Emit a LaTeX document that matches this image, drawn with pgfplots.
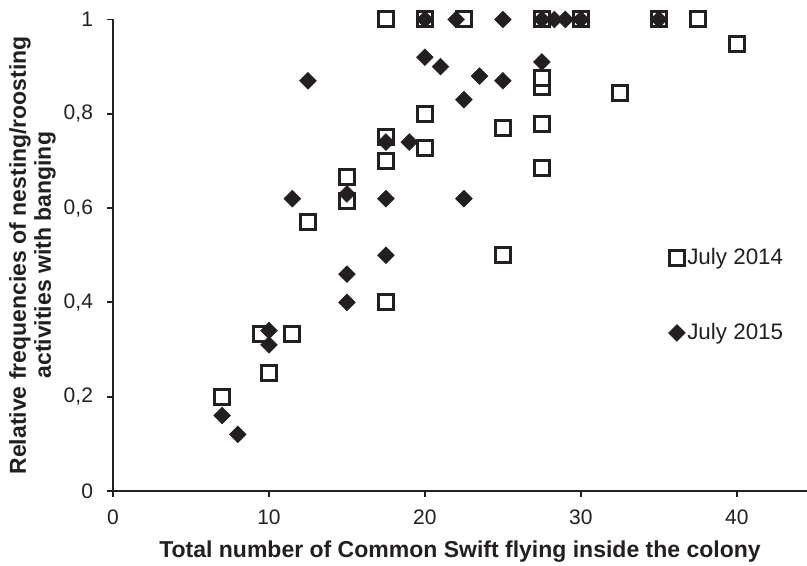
\documentclass[border=0pt]{standalone}
\usepackage{pgfplots}
\pgfplotsset{compat=1.18}
\usepackage{fontspec}
\setmainfont{Liberation Sans}
\definecolor{ink}{HTML}{231F20}
\pgfplotsset{
    swiftlegend/.style={legend image code/.code={\draw[##1] plot coordinates {(4.5pt,0pt)};}},
}

\begin{document}
\begin{tikzpicture}
% picture frame, 1 px of the reference = 0.5pt
\path[use as bounding box] (-56.5pt,-37.5pt) rectangle (347pt,245.5pt);
\begin{axis}[
    at={(0pt,0pt)}, anchor=south west,
    scale only axis, width=347pt, height=235.75pt,
    xmin=0, xmax=44.5, ymin=0, ymax=1,
    axis x line*=bottom, axis y line*=left,
    axis line style={ink, line width=0.9pt, -},
    tick style={ink, line width=0.9pt},
    tick align=outside, major tick length=3pt,
    xtick={0,10,20,30,40},
    ytick={0,0.2,0.4,0.6,0.8,1},
    yticklabels={0,{0,2},{0,4},{0,6},{0,8},1},
    tick label style={font=\fontsize{10.5}{12}\selectfont, text=ink},
    xticklabel style={yshift=-3pt},
    yticklabel style={xshift=-3.5pt},
    /pgf/number format/assume math mode=true,
    xlabel={Total number of Common Swift flying inside the colony},
    ylabel={Relative frequencies of nesting/roosting\\activities with banging},
    label style={font=\fontsize{11.5}{12.5}\selectfont\bfseries, text=ink},
    xlabel style={at={(axis description cs:0.5,-0.1294)}, anchor=center},
    ylabel style={align=center, at={(axis description cs:-0.116,0.5)}, anchor=center},
    clip=false,
    swiftlegend,
    legend style={draw=none, fill=none, inner sep=0pt,
        at={(axis cs:35.6,0.415)}, anchor=west,
        row sep=26pt, font=\fontsize{11.2}{12}\selectfont,
        nodes={inner sep=1pt, text=ink}},
    legend cell align=left,
]
% July 2014
\addplot[only marks, mark=square*, mark size=3.75pt,
    mark options={draw=ink, fill=white, line width=1.5pt}]
coordinates {
(7,0.2) (9.5,0.333) (10,0.25) (11.5,0.333) (12.5,0.571) (15,0.615)
(15,0.667) (17.5,0.4) (17.5,0.7) (17.5,0.75) (17.5,1) (20,0.727)
(20,0.8) (20,1) (22.5,1) (25,0.5) (25,0.769) (27.5,0.684) (27.5,0.778)
(27.5,0.857) (27.5,0.875) (27.5,1) (30,1) (32.5,0.844) (35,1)
(37.5,1) (40,0.947)
};
\addlegendentry{July 2014}
% July 2015
\addplot[only marks, mark=square*, mark size=2.95pt,
    mark options={draw=ink, fill=ink, line width=0.3pt, rotate=45}]
coordinates {
(7,0.16) (8,0.12) (10,0.31) (10,0.34) (11.5,0.62) (12.5,0.87) (15,0.4)
(15,0.46) (15,0.63) (17.5,0.5) (17.5,0.62) (17.5,0.74) (19,0.74)
(20,0.92) (20,1) (21,0.9) (22,1) (22.5,0.62) (22.5,0.83) (23.5,0.88)
(25,0.87) (25,1) (27.5,0.91) (27.5,1) (28.3,1) (29,1) (30,1) (35,1)
};
\addlegendentry{July 2015}
\end{axis}
\end{tikzpicture}
\end{document}
